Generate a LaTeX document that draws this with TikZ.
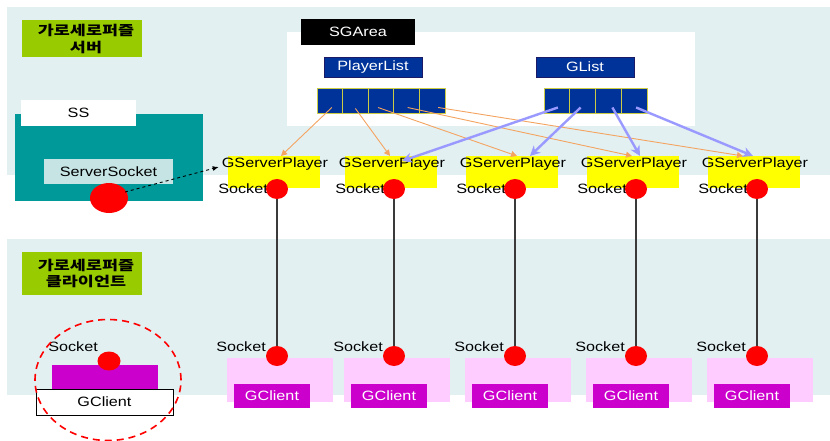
\documentclass[tikz,border=0pt]{standalone}
\usepackage{fontspec}
\setmainfont[FakeStretch=1.2]{Liberation Sans}
\newfontfamily\kr[FakeStretch=1.3]{Noto Sans CJK KR}
\usetikzlibrary{arrows.meta,shapes.geometric,calc}
\definecolor{band}{HTML}{E2F0F2}
\definecolor{lbgreen}{HTML}{99CC00}
\definecolor{teal}{HTML}{009999}
\definecolor{paleteal}{HTML}{C6E4E4}
\definecolor{navy}{HTML}{003399}
\definecolor{navyedge}{HTML}{1A1A66}
\definecolor{celledge}{HTML}{CCCC44}
\definecolor{gspyellow}{HTML}{FFFF00}
\definecolor{pinkbg}{HTML}{FFCCFF}
\definecolor{magenta}{HTML}{CC00CC}
\definecolor{orangeline}{HTML}{F4A460}
\definecolor{blueline}{HTML}{9999FF}
\definecolor{wirecol}{HTML}{3A3A3A}
\newcommand\lblfont{\fontsize{13.5}{15}\selectfont}
\newcommand\korfont{\kr\bfseries\fontsize{13.4}{16.5}\selectfont}
\begin{document}
\begin{tikzpicture}[x=1pt,y=-1pt,
  rbox/.style={rectangle, inner sep=0pt, outer sep=0pt, anchor=north west, font=\lblfont},
  txt/.style={inner sep=0pt, font=\lblfont},
  kortxt/.style={rbox, fill=lbgreen},
  cell/.style={rbox, fill=navy, draw=celledge, line width=0.8pt, minimum width=25.6pt, minimum height=25pt},
  sock/.style={ellipse, fill=red, inner sep=0pt, minimum width=22pt, minimum height=20pt},
  gspbox/.style={rbox, fill=gspyellow, minimum width=92pt, minimum height=32pt},
  pinkbox/.style={rbox, fill=pinkbg, minimum width=106pt, minimum height=44pt},
  magbox/.style={rbox, fill=magenta, text=white, minimum width=76pt, minimum height=24pt},
  wire/.style={draw=wirecol, line width=1.1pt},
  refarrow/.style={draw=orangeline, line width=0.9pt, -{Triangle[length=6pt,width=6pt]}},
  garrow/.style={draw=blueline, line width=2.4pt, -{Stealth[length=10pt,width=10pt,inset=3pt]}},
]
\useasboundingbox (0,0) rectangle (830,441);
\fill[white] (0,0) rectangle (830,441);

% server and client bands
\node[rbox, fill=band, minimum width=823pt, minimum height=168pt] (srvband) at (7,7) {};
\node[rbox, fill=band, minimum width=823pt, minimum height=156pt] (cliband) at (7,239) {};

% band titles
\node[kortxt, minimum width=120pt, minimum height=37pt] (srvtitle) at (22,20) {};
\node[font=\korfont, align=center, inner sep=0pt] (srvtitletxt) at (86,39) {가로세로퍼즐\\서버};
\node[kortxt, minimum width=120pt, minimum height=43pt] (clititle) at (22,252) {};
\node[font=\korfont, align=center, inner sep=0pt] (clititletxt) at (86,273.5) {가로세로퍼즐\\클라이언트};

% SGArea with its two lists
\node[rbox, fill=white, minimum width=408pt, minimum height=94pt] (sgarea) at (287,32) {};
\node[rbox, fill=black, text=white, minimum width=114pt, minimum height=26pt] (sgtitle) at (301,19) {SGArea};
\node[rbox, fill=navy, draw=navyedge, text=white, line width=0.8pt, minimum width=98pt, minimum height=20pt] (pltitle) at (324,57) {PlayerList};
\node[rbox, fill=navy, draw=navyedge, text=white, line width=0.8pt, minimum width=98pt, minimum height=20pt] (gltitle) at (536,57) {GList};
\foreach \j in {1,...,5} {
  \node[cell] (pl\j) at ({317+25.6*(\j-1)},88) {};
}
\foreach \j in {1,...,4} {
  \node[cell, minimum width=25.75pt] (gl\j) at ({544+25.75*(\j-1)},88) {};
}

% SS with its server socket
\node[rbox, fill=teal, minimum width=188pt, minimum height=87pt] (ss) at (15,114) {};
\node[rbox, fill=white, minimum width=115pt, minimum height=26pt] (sstitle) at (21,100) {SS};
\node[rbox, fill=paleteal, minimum width=129pt, minimum height=25pt] (srvsocket) at (44,159) {ServerSocket};
\node[ellipse, fill=red, inner sep=0pt, minimum width=38pt, minimum height=30pt] (bigsock) at (109,198) {};

% player columns: server side and client side
\foreach \i/\cx in {1/277,2/394,3/515,4/636,5/757} {
  \node[gspbox] (gsp\i) at (\cx-49,156) {};
  \node[txt] (gspt\i) at (\cx-2,164) {GServerPlayer};
  \node[txt, anchor=east] (sockt\i) at (\cx-9,189) {Socket};
  \node[sock] (st\i) at (\cx,189) {};
  \node[pinkbox] (pk\i) at (\cx-50,358) {};
  \node[magbox] (gc\i) at (\cx-43,384) {GClient};
  \node[txt, anchor=east] (sockbt\i) at (\cx-11,347) {Socket};
  \node[sock] (sb\i) at (\cx,356) {};
  \draw[wire] (st\i) -- (sb\i);
}

% PlayerList entries point at the server players
\draw[refarrow] ($(pl1.center)+(2,7)$) -- ($(gsp1.north)+(7,0)$);
\draw[refarrow] ($(pl2.center)+(0,8)$) -- ($(gsp2.north)+(-1,0)$);
\draw[refarrow] ($(pl3.center)+(-3,7)$) -- ($(gsp3.north)+(5,0)$);
\draw[refarrow] ($(pl4.center)+(1,7)$) -- ($(gsp4.north)+(-1,0)$);
\draw[refarrow] ($(pl5.center)+(6,7)$) -- ($(gsp5.north)+(-11,0)$);

% GList entries point at the server players
\draw[garrow] ($(gl1.center)+(1,7)$) -- ($(gsp2.north)+(11,5)$);
\draw[garrow] ($(gl2.center)+(-2,7)$) -- ($(gsp3.north)+(18,0)$);
\draw[garrow] ($(gl3.center)+(4,7)$) -- ($(gsp4.north)+(7,0)$);
\draw[garrow] ($(gl4.center)+(2,7)$) -- ($(gsp5.north)+(-1,0)$);

% accept: server socket hands over to a new player
\draw[dashed, line width=0.9pt, -{Latex[length=6pt,width=5pt]}] ($(bigsock.center)+(16,-6)$) -- ($(gspt1.west)+(-3,3)$);

% client detail
\node[rbox, fill=magenta, minimum width=106pt, minimum height=25pt] (cbody) at (52,365) {};
\node[rbox, fill=white, draw=black, line width=0.8pt, minimum width=137pt, minimum height=26pt] (cname) at (36,389) {GClient};
\node[txt, anchor=east] (csocktxt) at (98,347) {Socket};
\node[sock, minimum width=23pt, minimum height=19pt] (csock) at (109,361) {};
\node[ellipse, draw=red, dashed, line width=1.6pt, dash pattern=on 7pt off 5pt, inner sep=0pt, minimum width=146pt, minimum height=121pt] (focus) at (108,380) {};
\end{tikzpicture}
\end{document}
